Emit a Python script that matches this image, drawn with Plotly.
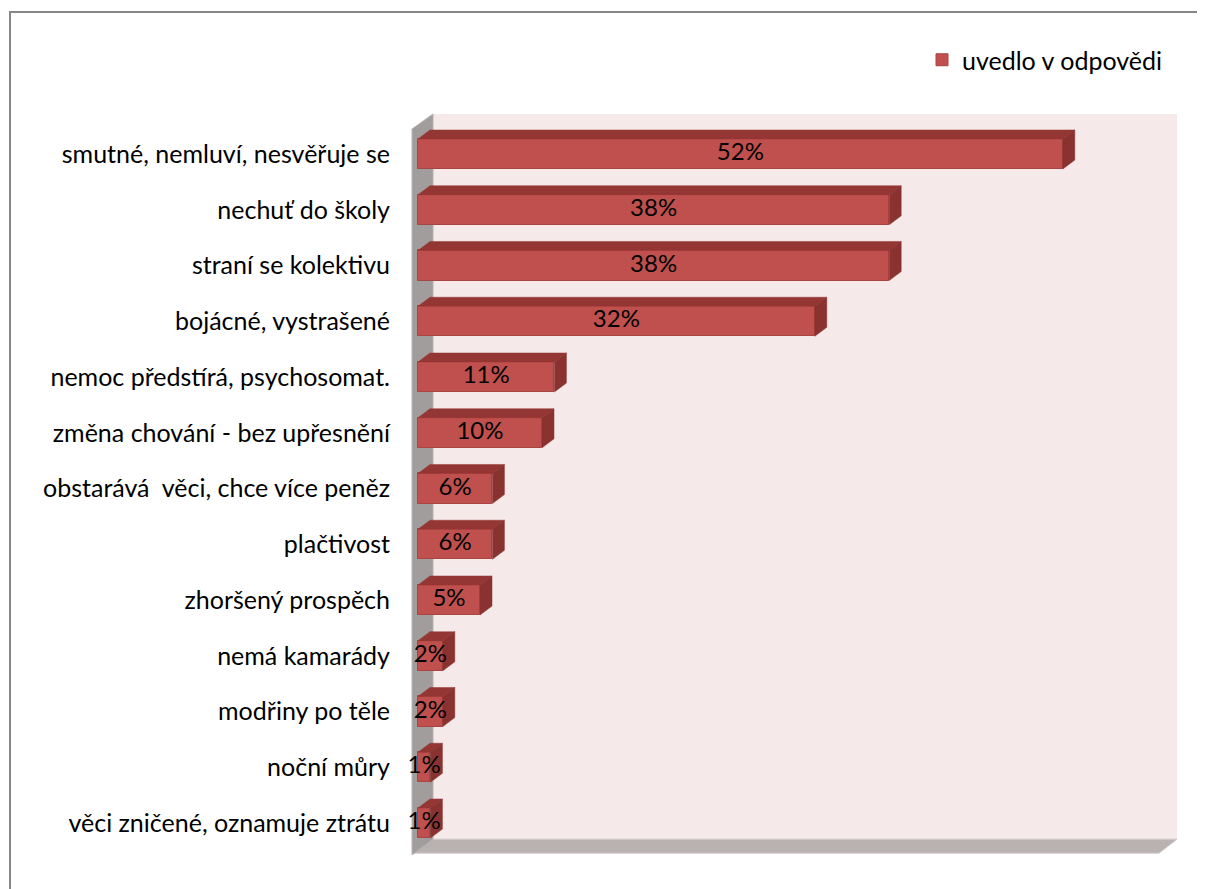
import plotly.graph_objects as go

categories = [
    "smutné, nemluví, nesvěřuje se",
    "nechuť do školy",
    "straní se kolektivu",
    "bojácné, vystrašené",
    "nemoc předstírá, psychosomat.",
    "změna chování - bez upřesnění",
    "obstarává  věci, chce více peněz",
    "plačtivost",
    "zhoršený prospěch",
    "nemá kamarády",
    "modřiny po těle",
    "noční můry",
    "věci zničené, oznamuje ztrátu",
]
values = [52, 38, 38, 32, 11, 10, 6, 6, 5, 2, 2, 1, 1]
labels = [f"{v}%" for v in values]
series_name = "uvedlo v odpovědi"

FONT = "Lato"
FS = 25
# screen geometry (page body has an 8px margin)
OFF = 8
W, H = 1205, 889
ML, MR, MT, MB = 405, 20, 105, 24
XR = [-1.048, 61.855]
YR = [12.753, -0.879]
BW = 0.54
DX, DY = 0.968, 0.161

FRONT = "#C0504D"
TOP = "#943634"
SIDE = "#8A3230"

pos = list(range(len(categories)))

fig = go.Figure()
fig.add_trace(go.Bar(
    y=pos, x=values, orientation="h", width=BW,
    marker=dict(color=FRONT, line=dict(color="#A84441", width=1)),
    name=series_name, showlegend=True, hoverinfo="skip",
))

# 3D faces derived from values
tx, ty, sx, sy = [], [], [], []
for i, v in zip(pos, values):
    top = i - BW / 2
    bot = i + BW / 2
    tx += [0, v, v + DX, DX, 0, None]
    ty += [top, top, top - DY, top - DY, top, None]
    sx += [v, v, v + DX, v + DX, v, None]
    sy += [top, bot, bot - DY, top - DY, top, None]
fig.add_trace(go.Scatter(x=tx, y=ty, mode="lines", fill="toself", fillcolor=TOP,
                         line=dict(color=TOP, width=0.5), showlegend=False, hoverinfo="skip"))
fig.add_trace(go.Scatter(x=sx, y=sy, mode="lines", fill="toself", fillcolor=SIDE,
                         line=dict(color=SIDE, width=0.5), showlegend=False, hoverinfo="skip"))

fig.add_trace(go.Scatter(
    x=[v / 2 for v in values], y=pos, text=labels, mode="text",
    textfont=dict(family=FONT, size=FS - 1, color="black"),
    showlegend=False, hoverinfo="skip",
))

shapes = []
# back wall
shapes.append(dict(type="rect", xref="x", yref="y", x0=1.21, x1=61.2, y0=-0.717, y1=12.29,
                   fillcolor="#F5E9E9", line=dict(width=0), layer="below"))
# floor
shapes.append(dict(type="path", xref="x", yref="y",
                   path="M -0.48,12.54 L 59.76,12.54 L 61.21,12.29 L 1.21,12.29 Z",
                   fillcolor="#BAB1B1", line=dict(color="#CFC8C8", width=1), layer="below"))
# left wall
shapes.append(dict(type="path", xref="x", yref="y",
                   path="M -0.48,12.57 L -0.48,-0.448 L 1.21,-0.717 L 1.21,12.29 Z",
                   fillcolor="#A19D9D", line=dict(color="#B5B1B1", width=1), layer="below"))
# outer chart border
pw = W - ML - MR
ph = H - MT - MB
shapes.append(dict(type="rect", xref="paper", yref="paper",
                   x0=(10 - ML) / pw, x1=(1215 - ML) / pw,
                   y0=(H - MB - 900) / ph, y1=(H - MB - 12) / ph,
                   line=dict(color="#878787", width=2), fillcolor="rgba(0,0,0,0)", layer="below"))

fig.update_layout(
    width=W - OFF, height=H - OFF,
    margin=dict(l=ML - OFF, r=MR, t=MT - OFF, b=MB),
    paper_bgcolor="white", plot_bgcolor="white",
    font=dict(family=FONT, size=FS, color="black"),
    shapes=shapes,
    xaxis=dict(range=XR, showgrid=False, zeroline=False, showticklabels=False,
               showline=False, ticks=""),
    yaxis=dict(range=YR, tickvals=pos, ticktext=categories, showgrid=False,
               zeroline=False, showline=False, ticks="", ticklabelstandoff=14,
               tickfont=dict(family=FONT, size=FS, color="black")),
    legend=dict(x=(922 - ML) / pw, xanchor="left", y=(H - MB - 60) / ph, yanchor="middle",
                bgcolor="rgba(0,0,0,0)", font=dict(family=FONT, size=FS, color="black")),
    bargap=0,
)

fig.write_html("out.html")
